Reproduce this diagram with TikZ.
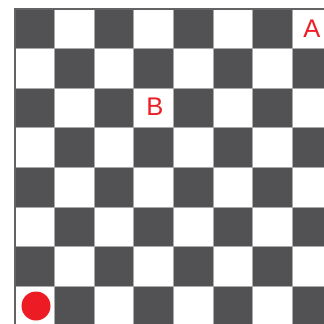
\documentclass[tikz,border=0pt]{standalone}
\usepackage{fontspec}
\setmainfont{Liberation Sans}
\usepackage{tikz}

\definecolor{squaredark}{RGB}{82,82,84}
\definecolor{gridgray}{RGB}{170,170,170}
\definecolor{markred}{RGB}{237,28,36}

\begin{document}
\begin{tikzpicture}[
  x=1pt, y=-1pt,
  darksq/.style={fill=squaredark},
  gridline/.style={draw=gridgray, line width=0.8pt},
  edge/.style={draw=squaredark!90!white, line width=1.6pt},
  lbl/.style={
    text=markred,
    font=\fontsize{25.5}{25.5}\selectfont,
    inner sep=0pt
  },
  dot/.style={
    circle,
    fill=markred,
    minimum size=29pt,
    inner sep=0pt
  }
]

\useasboundingbox (0,0) rectangle (324,324);
\clip (0,0) rectangle (324,324);
\fill[white] (0,0) rectangle (324,324);

% board squares
\foreach \c in {0,...,7} {
  \foreach \r in {0,...,7} {
    \pgfmathtruncatemacro{\parity}{mod(\c+\r,2)}
    \ifnum\parity=0
      \fill[darksq] ({15+39.6*\c},{9+39.6*\r}) rectangle ({15+39.6*(\c+1)},{9+39.6*(\r+1)});
    \fi
  }
}

% grid
\foreach \c in {1,...,8} \draw[gridline] ({15+39.6*\c},9) -- ({15+39.6*\c},330);
\foreach \r in {1,...,8} \draw[gridline] (15,{9+39.6*\r}) -- (330,{9+39.6*\r});
\draw[edge] (15,330) -- (15,9) -- (330,9);

\node[lbl] (a) at (312,29) {A};
\node[lbl] (b) at (155,107) {B};
\node[dot] (start) at (36,306) {};

\end{tikzpicture}
\end{document}
